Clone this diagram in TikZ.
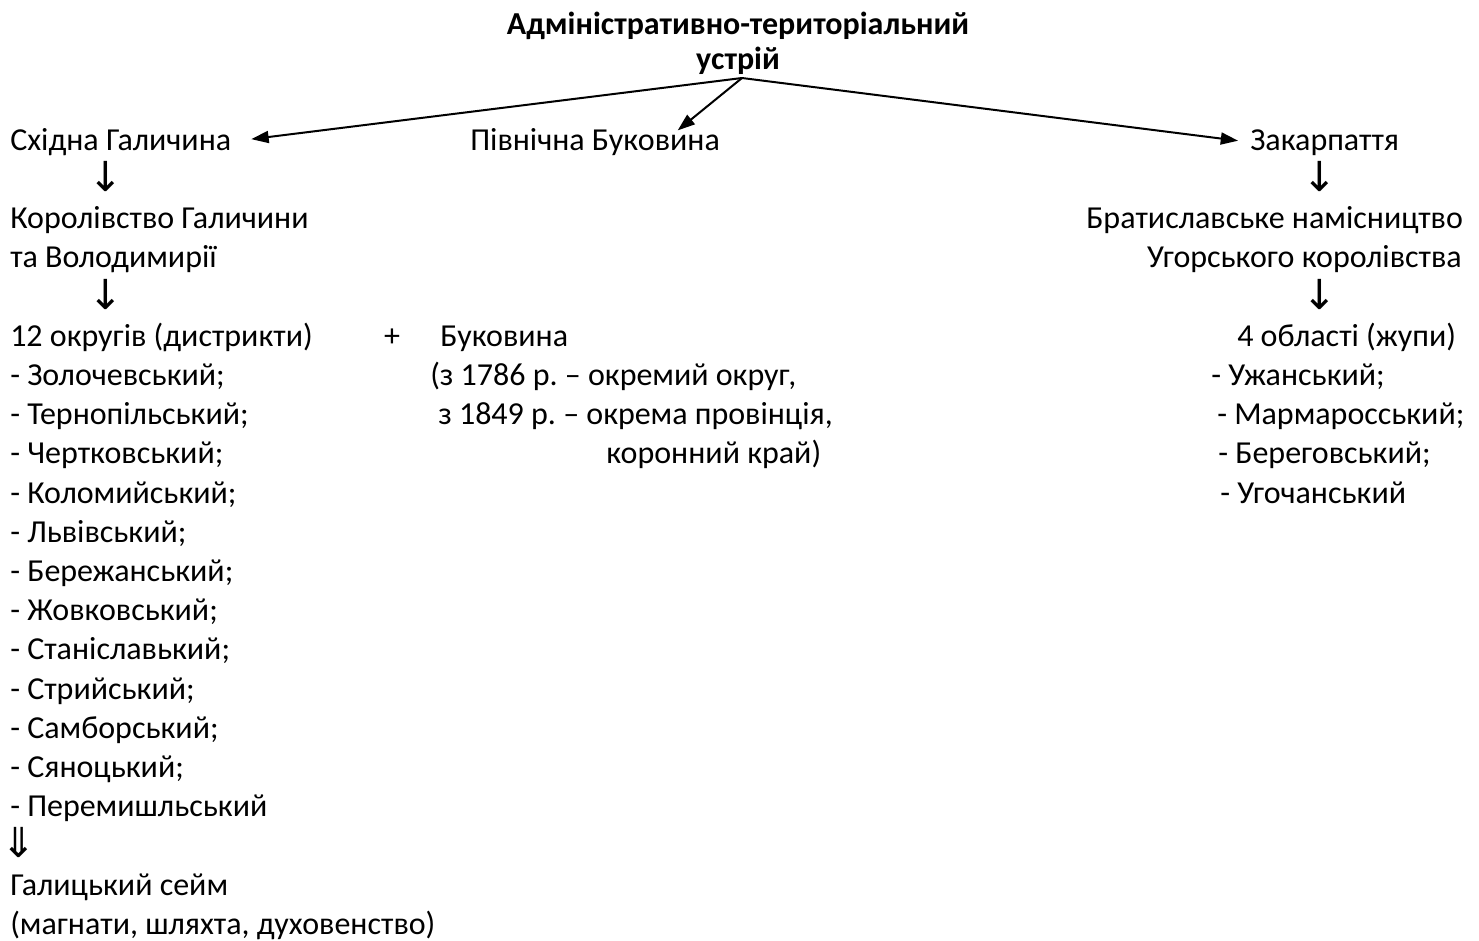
\documentclass[tikz,border=0pt]{standalone}
\usepackage{fontspec}
\setmainfont{Carlito}
\newfontfamily\arrowfont{DejaVu Sans}
\usepackage{tikz}
\usetikzlibrary{arrows.meta}
\tikzset{%
  tipA/.tip={Triangle[length=13pt,width=9pt]},
  txt/.style={anchor=base west, inner sep=0pt, font=\fontsize{24}{29}\selectfont},
  txtR/.style={txt, anchor=base east},
  head/.style={anchor=base, inner sep=0pt, font=\fontsize{24}{29}\selectfont\bfseries},
  dn/.style={anchor=base, inner sep=0pt, font=\arrowfont\fontsize{31}{36}\selectfont},
  conn/.style={line width=1.5pt, -tipA}
}
\frenchspacing

\begin{document}
\begin{tikzpicture}[x=0.75pt,y=-0.75pt]
\useasboundingbox (0,0) rectangle (1479,940);
% title
\node[head] (title) at (738,34) {Адміністративно-територіальний};
\node[head] (title2) at (738,69) {устрій};
\coordinate (root) at (742,78);
% three regions
\node[txt] (galych) at (10,150) {Східна Галичина};
\node[txt] (bukpn) at (470,150) {Північна Буковина};
\node[txt] (zakarp) at (1250,150) {Закарпаття};
\draw[conn, shorten >=15pt] (root) -- (galych.east);
\draw[conn] (root) -- ([xshift=62pt,yshift=-2pt]bukpn.north);
\draw[conn, shorten >=9pt] (root) -- (zakarp.west);
% left column
\node[dn] (dnA) at (106,191) {↓};
\node[txt] (korol) at (10,228.6) {Королівство Галичини};
\node[txt] (korol2) at (10,267.8) {та Володимирії};
\node[dn] (dnB) at (106,309) {↓};
\node[txt] (okr) at (10,346.2) {12 округів (дистрикти)};
\node[txt] (okr1) at (10,385.4) {- Золочевський;};
\node[txt] (okr2) at (10,424.6) {- Тернопільський;};
\node[txt] (okr3) at (10,463.8) {- Чертковський;};
\node[txt] (okr4) at (10,503) {- Коломийський;};
\node[txt] (okr5) at (10,542.2) {- Львівський;};
\node[txt] (okr6) at (10,581.4) {- Бережанський;};
\node[txt] (okr7) at (10,620.6) {- Жовковський;};
\node[txt] (okr8) at (10,659.8) {- Станіславький;};
\node[txt] (okr9) at (10,699) {- Стрийський;};
\node[txt] (okr10) at (10,738.2) {- Самборський;};
\node[txt] (okr11) at (10,777.4) {- Сяноцький;};
\node[txt] (okr12) at (10,816.6) {- Перемишльський};
\node[dn] (dnC) at (19,857) {⇓};
\node[txt] (sejm) at (10,895) {Галицький сейм};
\node[txt] (sejm2) at (10,934.2) {(магнати, шляхта, духовенство)};
% middle column
\node[txt, anchor=base] (plus) at (392,346.2) {+};
\node[txt] (buk) at (440,346.2) {Буковина};
\node[txt] (buk1) at (430,385.4) {(з 1786 р. – окремий округ,};
\node[txt] (buk2) at (438,424.6) {з 1849 р. – окрема провінція,};
\node[txt] (buk3) at (606,463.8) {коронний край)};
% right column
\node[dn] (dnD) at (1320,191) {↓};
\node[txt] (brat) at (1086,228.6) {Братиславське намісництво};
\node[txtR] (brat2) at (1462,267.8) {Угорського королівства};
\node[dn] (dnE) at (1320,309) {↓};
\node[txt] (obl) at (1237,346.2) {4 області (жупи)};
\node[txt] (obl1) at (1211,385.4) {- Ужанський;};
\node[txt] (obl2) at (1217,424.6) {- Мармаросський;};
\node[txt] (obl3) at (1218,463.8) {- Береговський;};
\node[txt] (obl4) at (1220,503) {- Угочанський};
\end{tikzpicture}
\end{document}
